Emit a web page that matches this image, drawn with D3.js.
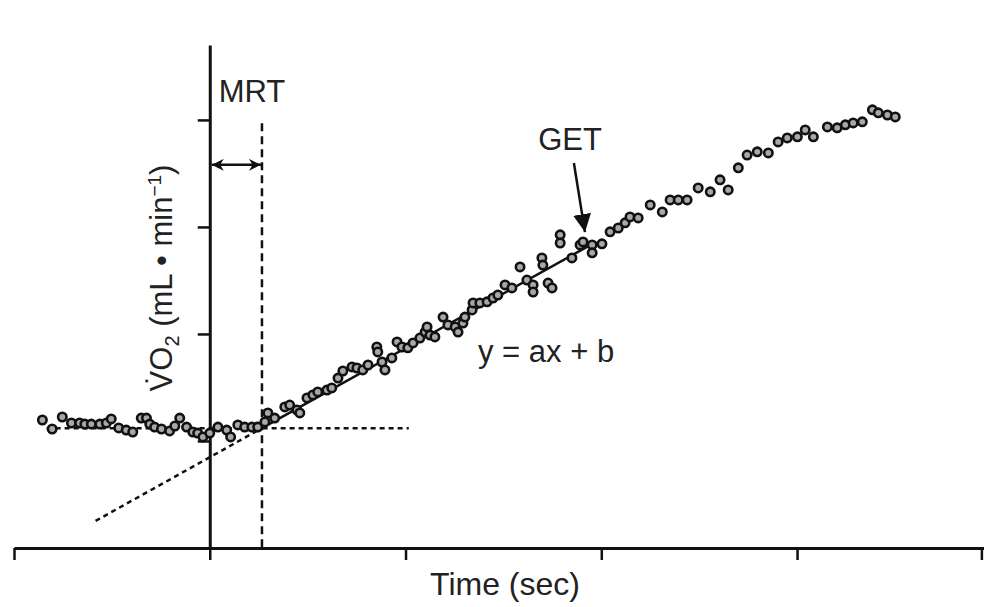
<!DOCTYPE html>
<html>
<head>
<meta charset="utf-8">
<script src="https://cdn.jsdelivr.net/npm/d3@7"></script>
<style>
  body { margin: 0; background: #fff; }
  text { font-family: "Liberation Sans", Arial, sans-serif; fill: #222; }
</style>
</head>
<body>
<div id="chart"></div>
<script>
// VO2 samples (time in s from exercise onset, VO2 in mL/min)
var timeSec = [-51.3,-48.3,-45.2,-42.4,-39.9,-38.3,-36.3,-33.7,-31.7,-30.2,-27.9,-25.6,-23.6,-21.0,-19.4,-18.4,-16.9,-14.8,-12.3,-10.7,
  -9.2,-7.1,-5.2,-3.7,-2.1,0,2.5,5.2,6.4,8.6,10.7,12.9,14.7,16.9,17.8,19.9,23.0,24.5,26.7,27.6,
  29.8,31.6,33.1,35.9,37.4,39.3,40.8,43.6,45.1,46.9,48.5,51.2,51.5,52.8,53.7,55.8,57.4,58.9,60.7,62.3,
  64.4,66.0,66.6,67.5,69.0,71.5,73.0,75.2,76.1,77.6,78.2,80.4,80.7,82.8,85.0,86.8,88.3,90.5,92.6,95.1,
  97.2,99.1,99.1,101.8,102.1,103.7,104.9,107.4,107.4,111.0,113.5,114.4,117.2,117.2,120.2,122.7,125.2,127.3,128.8,131.3,
  135.0,138.7,141.1,143.6,146.3,149.7,153.4,156.4,158.9,162.0,164.7,167.8,171.2,174.2,177.0,180.1,182.5,185.0,189.3,192.3,
  194.8,197.2,200.0,203.1,204.9,207.7,210.1];
var vo2 = [598,556,612,584,584,579,579,579,584,603,561,551,542,607,607,579,565,556,547,570,
  607,565,542,537,519,537,565,551,519,575,565,565,565,589,631,607,659,668,645,631,
  701,715,729,738,748,794,827,846,841,832,855,939,916,869,832,888,963,939,935,958,
  981,1009,1033,995,986,1079,1042,1033,1009,1051,1079,1112,1145,1145,1150,1168,1182,1229,1215,1313,
  1252,1229,1196,1355,1322,1238,1215,1463,1425,1355,1416,1430,1416,1379,1421,1477,1495,1519,1547,1542,
  1603,1570,1626,1626,1626,1682,1664,1720,1673,1776,1836,1851,1846,1897,1916,1921,1953,1921,1967,1963,
  1977,1986,1991,2047,2033,2023,2014];

// model / annotation values
var baselineVO2 = 560;      // mL/min
var mrtSec = 16;            // mean response time
var slope = 8.5;            // mL/min per s
var getSec = 115;
var xTicks = [-60, 0, 60, 120, 180, 236.5];
var yTicks = [500, 1000, 1500, 2000];

var W = 984, H = 607;

var svg = d3.select("#chart").append("svg")
    .attr("width", W)
    .attr("height", H);

var x = d3.scaleLinear().domain([-60, 237.3]).range([14, 984]);
var y = d3.scaleLinear().domain([0, 2350]).range([548, 45]);

function fit(t) { return baselineVO2 + slope * (t - mrtSec); }

// axes
var xAxis = svg.append("g")
    .attr("transform", "translate(0," + y(0) + ")")
    .call(d3.axisBottom(x).tickValues(xTicks).tickSize(12).tickSizeOuter(0).tickFormat(""));
var yAxis = svg.append("g")
    .attr("transform", "translate(" + x(0) + ",0)")
    .call(d3.axisLeft(y).tickValues(yTicks).tickSize(12).tickSizeOuter(0).tickFormat(""));
svg.selectAll(".domain").attr("stroke", "#111").attr("stroke-width", 3);
svg.selectAll(".tick line").attr("stroke", "#111").attr("stroke-width", 2.5);

// MRT dashed vertical
svg.append("line")
    .attr("x1", x(mrtSec)).attr("x2", x(mrtSec))
    .attr("y1", y(1985)).attr("y2", y(0))
    .attr("stroke", "#111").attr("stroke-width", 2.5)
    .attr("stroke-dasharray", "8,5");

// baseline dotted
svg.append("line")
    .attr("x1", x(-50)).attr("x2", x(61))
    .attr("y1", y(baselineVO2)).attr("y2", y(baselineVO2))
    .attr("stroke", "#111").attr("stroke-width", 2.5)
    .attr("stroke-dasharray", "5,4");

// regression: dotted back-extrapolation, solid over the fit region
svg.append("line")
    .attr("x1", x(-35)).attr("y1", y(fit(-35)))
    .attr("x2", x(mrtSec)).attr("y2", y(fit(mrtSec)))
    .attr("stroke", "#111").attr("stroke-width", 2.5)
    .attr("stroke-dasharray", "5,4");
svg.append("line")
    .attr("x1", x(mrtSec)).attr("y1", y(fit(mrtSec)))
    .attr("x2", x(117)).attr("y2", y(fit(117)))
    .attr("stroke", "#111").attr("stroke-width", 2.5);

// data points
svg.append("g").selectAll("circle")
    .data(timeSec)
    .enter()
    .append("circle")
      .attr("cx", function(d) { return x(d); })
      .attr("cy", function(d, i) { return y(vo2[i]); })
      .attr("r", 4.2)
      .attr("fill", "#a8a8a8")
      .attr("stroke", "#111")
      .attr("stroke-width", 2.6);

// arrow markers
var defs = svg.append("defs");
defs.append("marker")
    .attr("id", "head").attr("viewBox", "0 0 10 10")
    .attr("refX", 10).attr("refY", 5)
    .attr("markerWidth", 12).attr("markerHeight", 12)
    .attr("markerUnits", "userSpaceOnUse")
    .attr("orient", "auto-start-reverse")
  .append("path").attr("d", "M0,0L10,5L0,10L3,5Z").attr("fill", "#111");
defs.append("marker")
    .attr("id", "bighead").attr("viewBox", "0 0 10 10")
    .attr("refX", 10).attr("refY", 5)
    .attr("markerWidth", 18).attr("markerHeight", 18)
    .attr("markerUnits", "userSpaceOnUse")
    .attr("orient", "auto")
  .append("path").attr("d", "M0,0L10,5L0,10Z").attr("fill", "#111");

// MRT double arrow
svg.append("line")
    .attr("x1", x(0) + 2).attr("x2", x(mrtSec) - 1)
    .attr("y1", y(1790)).attr("y2", y(1790))
    .attr("stroke", "#111").attr("stroke-width", 2.5)
    .attr("marker-start", "url(#head)")
    .attr("marker-end", "url(#head)");

// GET arrow
svg.append("line")
    .attr("x1", x(getSec - 3.4)).attr("y1", y(1799))
    .attr("x2", x(getSec)).attr("y2", y(1476))
    .attr("stroke", "#111").attr("stroke-width", 2.5)
    .attr("marker-end", "url(#bighead)");

// labels
svg.append("text").attr("x", 252).attr("y", 102)
    .attr("text-anchor", "middle").style("font-size", "31px").text("MRT");
svg.append("text").attr("x", 570).attr("y", 150)
    .attr("text-anchor", "middle").style("font-size", "31px").text("GET");
svg.append("text").attr("x", 478).attr("y", 362)
    .style("font-size", "31px").text("y = ax + b");
svg.append("text").attr("x", 505).attr("y", 595)
    .attr("text-anchor", "middle").style("font-size", "32px").text("Time (sec)");

var yl = svg.append("text")
    .attr("transform", "translate(172,278) rotate(-90)")
    .attr("text-anchor", "middle")
    .style("font-size", "31px");
yl.append("tspan").text("V\u0307O");
yl.append("tspan").attr("dy", 7).style("font-size", "20px").text("2");
yl.append("tspan").attr("dy", -7).text(" (mL \u2022 min");
yl.append("tspan").attr("dy", -11).style("font-size", "19px").text("\u22121");
yl.append("tspan").attr("dy", 11).text(")");
</script>
</body>
</html>
